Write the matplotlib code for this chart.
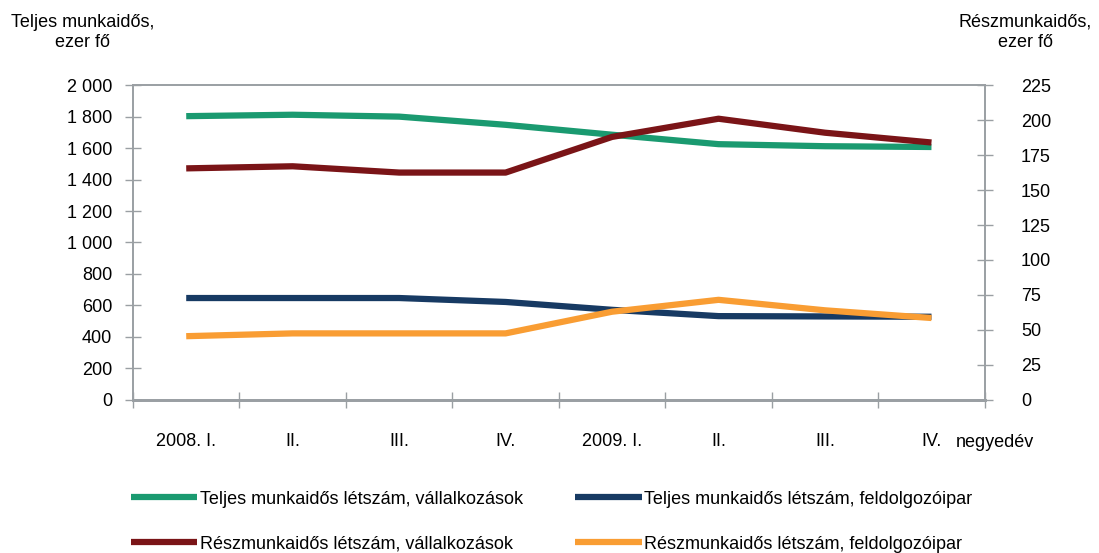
import matplotlib
matplotlib.use("Agg")
import matplotlib.pyplot as plt
from matplotlib.ticker import FuncFormatter

plt.rcParams['font.family'] = ['Liberation Sans Narrow', 'Liberation Sans', 'DejaVu Sans']

quarters = ["2008. I.", "II.", "III.", "IV.", "2009. I.", "II.", "III.", "IV."]
teljes_vall = [1803, 1812, 1800, 1748, 1685, 1625, 1612, 1607]
teljes_feld = [647, 647, 647, 622, 572, 532, 530, 528]
resz_vall = [165.5, 167, 162.5, 162.5, 188, 201, 191, 184]
resz_feld = [45.5, 47.5, 47.5, 47.5, 63, 71.5, 64, 58.5]

c_green = "#1a9a70"
c_navy = "#173a63"
c_red = "#7a1417"
c_orange = "#f99d33"
grey = "#9a9fa3"

fig = plt.figure(figsize=(10.99, 5.53), dpi=100)
ax = fig.add_axes([0.121, 0.277, 0.775, 0.569])
ax2 = ax.twinx()

x = range(len(quarters))
l1, = ax.plot(x, teljes_vall, color=c_green, lw=4.5, solid_capstyle="butt")
l2, = ax.plot(x, teljes_feld, color=c_navy, lw=4.5, solid_capstyle="butt")
l3, = ax2.plot(x, resz_vall, color=c_red, lw=4.5, solid_capstyle="butt")
l4, = ax2.plot(x, resz_feld, color=c_orange, lw=4.5, solid_capstyle="butt")

ax.set_xlim(-0.5, 7.5)
ax.set_ylim(0, 2000)
ax2.set_ylim(0, 225)
ax.set_yticks(range(0, 2001, 200))
ax2.set_yticks(range(0, 226, 25))
ax.yaxis.set_major_formatter(FuncFormatter(lambda v, p: f"{int(v):,}".replace(",", " ")))

ax.set_xticks([i - 0.5 for i in range(9)])
ax.set_xticklabels([])
ax.set_xticks(list(x), minor=True)
ax.set_xticklabels(quarters, minor=True, fontsize=13)
ax.tick_params(axis="x", which="minor", length=0, pad=24)
ax.tick_params(axis="x", which="major", direction="inout", length=12, color=grey, width=1)
ax.tick_params(axis="y", direction="inout", length=12, color=grey, width=1, labelsize=13, pad=9)
ax2.tick_params(axis="y", direction="inout", length=12, color=grey, width=1, labelsize=13, pad=20)

for a in (ax, ax2):
    for s in a.spines.values():
        s.set_color(grey)
        s.set_linewidth(1.2)
ax.spines["bottom"].set_linewidth(2)
ax2.spines["bottom"].set_linewidth(2)

fig.text(0.075, 0.975, "Teljes munkaidős,\nezer fő", ha="center", va="top", fontsize=13, linespacing=1.25)
fig.text(0.933, 0.975, "Részmunkaidős,\nezer fő", ha="center", va="top", fontsize=13, linespacing=1.25)
fig.text(0.87, 0.2, "negyedév", ha="left", va="center", fontsize=13)

fig.legend([l1, l3, l2, l4],
           ["Teljes munkaidős létszám, vállalkozások",
            "Részmunkaidős létszám, vállalkozások",
            "Teljes munkaidős létszám, feldolgozóipar",
            "Részmunkaidős létszám, feldolgozóipar"],
           ncol=2, loc="upper left", bbox_to_anchor=(0.104, 0.142),
           frameon=False, fontsize=13, handlelength=3.7, handletextpad=0.12,
           columnspacing=2.9, labelspacing=1.55)

fig.savefig("out.png", dpi=100)
